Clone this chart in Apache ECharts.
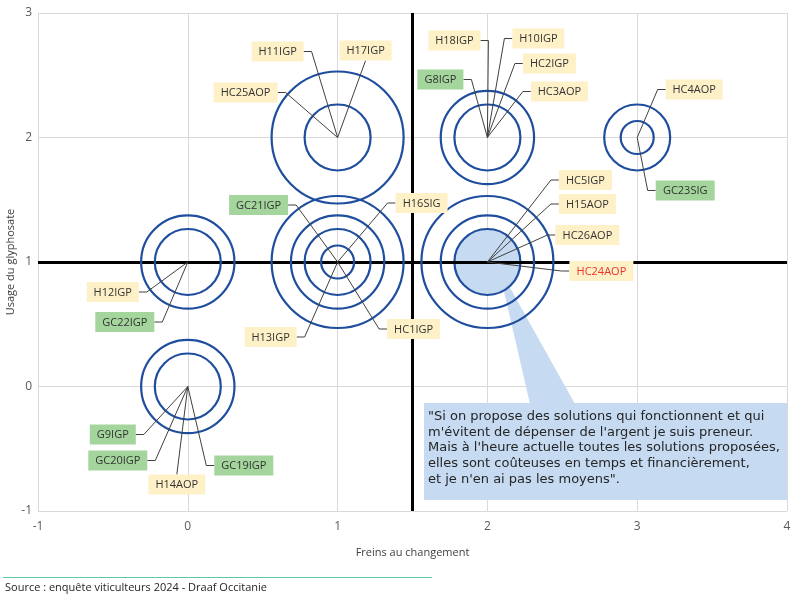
<!DOCTYPE html>
<html><head><meta charset="utf-8">
<script src="https://cdn.jsdelivr.net/npm/echarts@6/dist/echarts.min.js"></script>
<style>html,body{margin:0;padding:0;background:#fff}#c{width:800px;height:599px}</style>
</head><body><div id="c"></div>
<script>
// ---- data ----
const xTicks = [-1, 0, 1, 2, 3, 4];
const yTicks = [-1, 0, 1, 2, 3];
const xName = 'Freins au changement';
const yName = 'Usage du glyphosate';
const xDivider = 1.5;
const yDivider = 1;

// bubbles (concentric rings): x, y, bubble size
const ringX    = [1, 1, 2, 2, 3, 3, 2, 2, 1, 1, 1, 1, 0, 0, 0, 0];
const ringY    = [2, 2, 2, 2, 2, 2, 1, 1, 1, 1, 1, 1, 1, 1, 0, 0];
const ringSize = [16, 4, 8, 4, 4, 1, 16, 8, 16, 8, 4, 1, 8, 4, 8, 4];

// quoted respondent bubble
const quotedX = [2];
const quotedY = [1];
const quotedSize = [4];
const quotedName = 'HC24AOP';

// respondents
const labelNames = ['H11IGP','H17IGP','HC25AOP',
  'H18IGP','H10IGP','HC2IGP','HC3AOP','G8IGP',
  'HC4AOP','GC23SIG',
  'HC5IGP','H15AOP','HC26AOP','HC24AOP',
  'GC21IGP','H16SIG','H13IGP','HC1IGP',
  'H12IGP','GC22IGP',
  'G9IGP','GC20IGP','H14AOP','GC19IGP'];
const labelX = [1,1,1, 2,2,2,2,2, 3,3, 2,2,2,2, 1,1,1,1, 0,0, 0,0,0,0];
const labelY = [2,2,2, 2,2,2,2,2, 2,2, 1,1,1,1, 1,1,1,1, 1,1, 0,0,0,0];

const quoteLines = [
  '"Si on propose des solutions qui fonctionnent et qui',
  "m'évitent de dépenser de l'argent je suis preneur.",
  "Mais à l'heure actuelle toutes les solutions proposées,",
  'elles sont coûteuses en temps et financièrement,',
  "et je n'en ai pas les moyens\"."
];
const sourceText = 'Source : enquête viticulteurs 2024 - Draaf Occitanie';

// ---- layout (label box offsets in px from the point, leader side) ----
const labelLayout = {
  H11IGP:[-60,-86,'right'], H17IGP:[28,-87,'bottom'], HC25AOP:[-92,-45,'right'],
  H18IGP:[-33,-97,'right'], H10IGP:[51,-99,'left'], HC2IGP:[62,-74,'left'], HC3AOP:[72,-46,'left'], G8IGP:[-47,-58,'right'],
  HC4AOP:[57,-48,'left'], GC23SIG:[48,53,'left'],
  HC5IGP:[98,-82,'left'], H15AOP:[100,-58,'left'], HC26AOP:[100,-27,'left'], HC24AOP:[114,9,'left'],
  GC21IGP:[-79,-57,'right'], H16SIG:[84,-59,'left'], H13IGP:[-67,75,'right'], HC1IGP:[76,67,'left'],
  H12IGP:[-75,30,'right'], GC22IGP:[-63,60,'right'],
  G9IGP:[-75,48,'right'], GC20IGP:[-70,74,'right'], H14AOP:[-11,98,'top'], GC19IGP:[56,79,'left']
};

const ringColor = '#1f4e9e';
const fillBlue = '#c6daf1';
const labelFont = '11px "Open Sans"';
const mctx = document.createElement('canvas').getContext('2d');
mctx.font = labelFont;

const chart = echarts.init(document.getElementById('c'), null, {renderer: 'canvas'});

const sizeFn = v => 33 * Math.sqrt(v[2]);

chart.setOption({
  animation: false,
  backgroundColor: '#fff',
  grid: {left: 38, right: 13, top: 13, bottom: 88, containLabel: false, outerBoundsMode: 'none'},
  xAxis: {
    type: 'value', min: xTicks[0], max: xTicks[xTicks.length - 1], interval: 1,
    name: xName, nameLocation: 'middle', nameGap: 36, nameMoveOverlap: false,
    nameTextStyle: {fontFamily: 'Open Sans', fontSize: 11, color: '#404040'},
    axisLine: {show: false}, axisTick: {show: false},
    axisLabel: {fontFamily: 'Open Sans', fontSize: 12, color: '#595959', margin: 10},
    splitLine: {show: true, lineStyle: {color: '#d9d9d9', width: 1}}
  },
  yAxis: {
    type: 'value', min: yTicks[0], max: yTicks[yTicks.length - 1], interval: 1,
    name: yName, nameLocation: 'middle', nameGap: 22, nameRotate: 90, nameMoveOverlap: false,
    nameTextStyle: {fontFamily: 'Open Sans', fontSize: 11, color: '#404040'},
    axisLine: {show: false}, axisTick: {show: false},
    axisLabel: {fontFamily: 'Open Sans', fontSize: 12, color: '#595959', margin: 6},
    splitLine: {show: true, lineStyle: {color: '#d9d9d9', width: 1}}
  },
  series: [
    {
      type: 'scatter', data: [], z: 2, silent: true,
      markLine: {
        silent: true, symbol: 'none', label: {show: false},
        lineStyle: {color: '#000', width: 3, type: 'solid'},
        data: [{xAxis: xDivider}, {yAxis: yDivider}]
      }
    },
    {
      type: 'scatter', z: 4, silent: true,
      data: quotedX.map((x, i) => [x, quotedY[i], quotedSize[i]]),
      symbol: 'circle', symbolSize: sizeFn,
      itemStyle: {color: fillBlue, borderColor: ringColor, borderWidth: 2.2, opacity: 1}
    },
    {
      type: 'scatter', z: 5, silent: true,
      data: ringX.map((x, i) => [x, ringY[i], ringSize[i]]),
      symbol: 'circle', symbolSize: sizeFn,
      itemStyle: {color: 'rgba(0,0,0,0)', borderColor: ringColor, borderWidth: 2.2, opacity: 1}
    },
    {
      type: 'custom', z: 10, silent: true,
      data: labelX.map((x, i) => [x, labelY[i]]),
      renderItem: function (params, api) {
        const name = labelNames[params.dataIndex];
        const c = api.coord([api.value(0), api.value(1)]);
        const L = labelLayout[name];
        const tw = mctx.measureText(name).width;
        const w = Math.round(tw + 14), h = 20;
        const cx = c[0] + L[0], cy = c[1] + L[1];
        let pts;
        if (L[2] === 'right') pts = [[c[0], c[1]], [cx + w / 2 + 8, cy], [cx + w / 2, cy]];
        else if (L[2] === 'left') pts = [[c[0], c[1]], [cx - w / 2 - 8, cy], [cx - w / 2, cy]];
        else if (L[2] === 'bottom') pts = [[c[0], c[1]], [cx, cy + h / 2]];
        else pts = [[c[0], c[1]], [cx, cy - h / 2]];
        const isG = name.charAt(0) === 'G';
        return {
          type: 'group',
          children: [
            {type: 'polyline', shape: {points: pts}, style: {stroke: '#404040', lineWidth: 1, fill: null}},
            {type: 'rect', shape: {x: cx - w / 2, y: cy - h / 2, width: w, height: h},
             style: {fill: isG ? '#a3d59c' : '#fef1c8'}},
            {type: 'text', style: {text: name, x: cx, y: cy + 0.5, align: 'center', verticalAlign: 'middle',
              font: labelFont, fill: name === quotedName ? '#e8352b' : '#333333'}}
          ]
        };
      }
    }
  ]
});

// callout annotation anchored to the quoted bubble
const qp = chart.convertToPixel({gridIndex: 0}, [quotedX[0], quotedY[0]]);
const boxL = 424, boxT = 403, boxR = 787, boxB = 500;
chart.setOption({
  graphic: [
    {type: 'polygon', z: 3, silent: true,
     shape: {points: [[qp[0] + 11, qp[1] + 5], [530, boxT + 1], [575, boxT + 1]]},
     style: {fill: fillBlue}},
    {type: 'rect', z: 3, silent: true,
     shape: {x: boxL, y: boxT, width: boxR - boxL, height: boxB - boxT},
     style: {fill: fillBlue}},
    {type: 'text', z: 3, silent: true,
     style: {text: quoteLines.join('\n'), x: 428, y: 409, font: '13px "DejaVu Sans"', lineHeight: 15.6, fill: '#262626'}},
    {type: 'line', z: 3, silent: true, shape: {x1: 3, y1: 577.5, x2: 432, y2: 577.5},
     style: {stroke: '#62c6a9', lineWidth: 1}},
    {type: 'text', z: 3, silent: true,
     style: {text: sourceText, x: 5, y: 588, verticalAlign: 'middle', font: '11px "Open Sans"', fill: '#262626'}}
  ]
});
</script>
</body></html>
